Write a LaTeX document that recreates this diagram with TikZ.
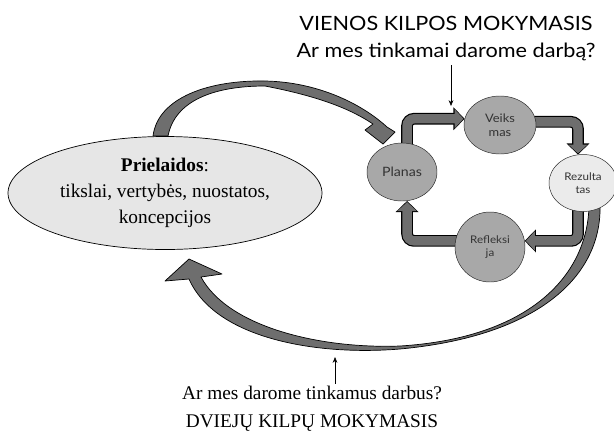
\documentclass[tikz,border=0pt]{standalone}
\usepackage{fontspec}
\setmainfont{Liberation Serif}
\newfontfamily\gillfont[FakeStretch=1.1]{Lato}
\usetikzlibrary{arrows.meta}
\usetikzlibrary{shapes.geometric, backgrounds}
\usetikzlibrary{calc}

\definecolor{premfill}{HTML}{E6E6E6}
\definecolor{stagefill}{HTML}{A8A8A8}
\definecolor{resfill}{HTML}{EBEBEB}
\definecolor{arrfill}{HTML}{6E6E6E}
\definecolor{stagetext}{HTML}{333333}

\begin{document}
\begin{tikzpicture}[x=0.03cm, y=-0.03cm,
    stage/.style={draw=black!85, ellipse, fill=stagefill, inner sep=0pt, align=center,
        text=stagetext, font=\gillfont\fontsize{10}{11.5}\selectfont},
    blockarrow/.style={draw=black, line width=10pt, rounded corners=6pt, shorten <=-4pt,
        -{Triangle[length=9.5pt,width=19pt]},
        postaction={draw=arrfill, line width=8pt, -{Triangle[length=7.6pt,width=16pt]}, shorten >=1pt}},
    bandarrow/.style={draw=black, fill=arrfill, line width=0.6pt, line join=round},
    pin/.style={-{Stealth[length=5pt,width=4pt]}, line width=0.5pt}]
    \useasboundingbox (0,0) rectangle (614,437);

    \node[draw, ellipse, fill=premfill, line width=0.6pt, minimum width=9.42cm, minimum height=3.39cm,
        align=center, font=\fontsize{16.5}{22}\selectfont] (prielaidos) at (165,193)
        {\textbf{Prielaidos}:\\tikslai, vertybės, nuostatos,\\koncepcijos};

    \node[stage, minimum width=2.1cm, minimum height=1.74cm, font=\gillfont\fontsize{11}{12}\selectfont] (planas) at (402,172) {Planas};
    \node[stage, minimum width=2.16cm, minimum height=1.74cm] (veiksmas) at (500,125) {Veiks\\mas};
    \node[stage, fill=resfill, minimum width=2.04cm, minimum height=1.71cm,
        font=\gillfont\fontsize{9}{11}\selectfont] (rezultatas) at (583,183) {Rezulta\\tas};
    \node[stage, minimum width=2.1cm, minimum height=2.1cm,
        font=\gillfont\fontsize{9}{11}\selectfont] (refleksija) at (490,247) {Refleksi\\ja};

    \node[align=center, font=\gillfont\fontsize{16.8}{23}\selectfont] (vienos) at (446,39)
        {VIENOS KILPOS MOKYMASIS\\Ar mes tinkamai darome darbą?};
    \node[align=center, inner sep=2pt, font=\fontsize{16.5}{24}\selectfont] (dviguba) at (312,409)
        {Ar mes darome tinkamus darbus?\\DVIEJŲ KILPŲ MOKYMASIS};

    \coordinate (vienospt) at (451,106);
    \coordinate (dvigubapt) at (335,357);
    \draw[pin] (vienos.south -| vienospt) -- (vienospt);
    \draw[pin] (dviguba.north -| dvigubapt) -- (dvigubapt);

    \begin{scope}[on background layer]
        % single loop
        \draw[blockarrow] (planas.80) |- (veiksmas.170);
        \draw[blockarrow] (veiksmas.5) -| (rezultatas.100);
        \draw[blockarrow] (rezultatas.260) |- (refleksija.10);
        \draw[blockarrow] (refleksija.170) -| (planas.280);
        % assumptions -> plan
        \draw[bandarrow] (153,136) .. controls (158,97) and (210,80) .. (265,81)
            .. controls (318,82) and (362,104) .. (387,127) -- (395,132) -- (383,144)
            -- (365,130) -- (373,124) .. controls (352,110) and (322,97) .. (265,86)
            .. controls (215,86) and (175,100) .. (168,136) -- cycle;
        % double loop
        \draw[bandarrow] (600,205) .. controls (602,275) and (540,336) .. (400,349)
            .. controls (315,356) and (215,338) .. (189,279) -- (165,281) -- (189,259)
            -- (222,274) -- (201,277) .. controls (228,327) and (320,349) .. (400,346)
            .. controls (530,338) and (588,275) .. (589,205) -- cycle;
    \end{scope}
\end{tikzpicture}
\end{document}
